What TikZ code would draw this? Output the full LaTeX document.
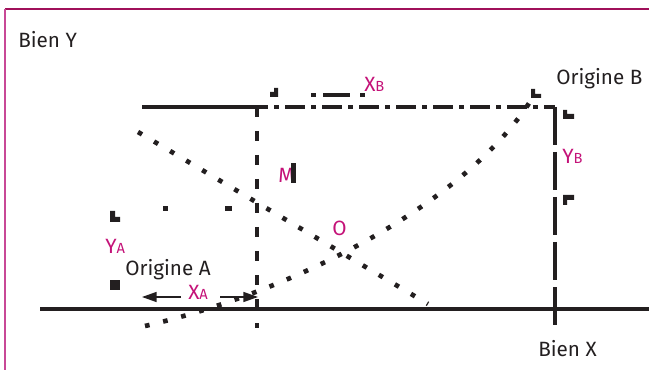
\documentclass[tikz,border=0pt]{standalone}
\usepackage{fontspec}
\setmainfont{Fira Sans}
\usetikzlibrary{arrows.meta}
\definecolor{ink}{RGB}{35,31,32}
\definecolor{accent}{RGB}{196,18,120}
\definecolor{frametop}{RGB}{160,16,90}
\definecolor{frameleft}{RGB}{200,72,150}
% label with a small same-baseline index letter
\newcommand\sublbl[2]{#1{\fontsize{11}{12}\selectfont #2}}
\begin{document}
\begin{tikzpicture}[x=0.75pt,y=-0.75pt,
  txt/.style={font=\fontsize{15.5}{18}\selectfont, text=ink, inner sep=0pt, anchor=base west},
  lbl/.style={txt, text=accent},
  axis/.style={draw=ink, line width=3pt},
  guide/.style={draw=ink, line width=3pt, dash pattern=on 7.5pt off 10.5pt},
  dashdot/.style={draw=ink, line width=3pt, dash pattern=on 15pt off 4.5pt on 3.75pt off 4.5pt},
  longdash/.style={draw=ink, line width=3pt, dash pattern=on 28.5pt off 5.25pt},
  curve/.style={draw=ink, line width=3.5pt, dash pattern=on 3.5pt off 10.5pt},
  measure/.style={draw=ink, line width=1.1pt, -{Triangle[length=11pt,width=7.5pt]}},
  speck/.style={fill=ink}
]
\useasboundingbox (0,0) rectangle (649,370);

% frame
\draw[frametop, line width=1.5pt] (5,9) -- (649,9);
\draw[frameleft, line width=1.5pt] (5,9) -- (5,370);

% key points
\coordinate (oA) at (40,309);
\coordinate (xEnd) at (649,309);
\coordinate (topL) at (142,107);
\coordinate (topM) at (248,107);
\coordinate (oB) at (555,107);
\coordinate (rightBot) at (555,328);
\coordinate (vTop) at (257,107);
\coordinate (vBot) at (257,328);
\coordinate (a1) at (138,132);
\coordinate (a2) at (428,304);
\coordinate (b1) at (145,326);
\coordinate (b2) at (533,97);
\coordinate (xaL) at (142,297);
\coordinate (xaR) at (258,297);

% axes of the box
\draw[axis] (oA) -- (xEnd);
\draw[axis] (topL) -- (topM);
\draw[dashdot] (topM) -- (oB);
\draw[longdash] (oB) -- (rightBot);
\draw[guide] (vTop) -- (vBot);

% indifference curves
\draw[curve] (a1) -- (a2);
\draw[curve] (b1) .. controls (300,290) and (470,200) .. (b2);

% labels
\node[txt] (bienY) at (18,48) {Bien Y};
\node[txt] (bienX) at (538,356) {Bien X};
\node[txt] (origA) at (125,276) {Origine A};
\node[txt] (origB) at (556,85) {Origine B};
\node[lbl] (yA) at (105,253) {\sublbl{Y}{A}};
\node[lbl] (xA) at (188,299) {\sublbl{X}{A}};
\node[lbl] (xB) at (364,92) {\sublbl{X}{B}};
\node[lbl] (yB) at (562,164) {\sublbl{Y}{B}};
\node[lbl] (ptM) at (278,183) {M};
\node[lbl] (ptO) at (332,235) {O};

% measure of X_A
\draw[measure] (181,297) -- (xaL);
\draw[measure] (220,297) -- (xaR);

% small marks
\fill[speck] (110,211) rectangle (115,222) (110,217) rectangle (120,222);
\fill[speck] (110,280) rectangle (120,290);
\fill[speck] (563,110) rectangle (567,119) (563,114) rectangle (574,119);
\fill[speck] (563,195) rectangle (574,200) (563,195) rectangle (567,205);
\fill[speck] (531,89) rectangle (535,98) (531,94) rectangle (541,98);
\fill[speck] (270,92) rectangle (278,97) (274,88) rectangle (278,97);
\fill[speck] (311,93) rectangle (316,97);
\fill[speck] (323,93) rectangle (350,97);
\fill[speck] (360,93) rectangle (365,97);
\fill[speck] (291,163) rectangle (296,183);
\fill[speck] (163,206) rectangle (168,211);
\fill[speck] (225,206) rectangle (232,211);
\end{tikzpicture}
\end{document}
